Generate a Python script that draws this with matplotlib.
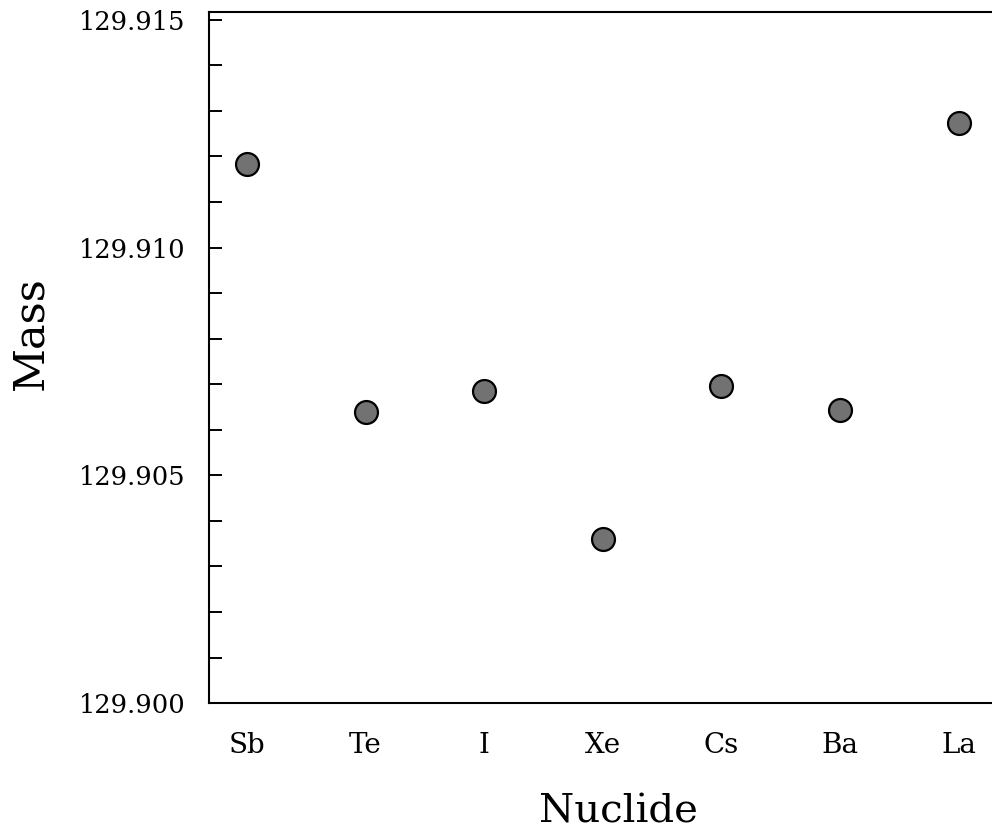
import matplotlib
matplotlib.use("Agg")
import matplotlib.pyplot as plt
from matplotlib.ticker import MultipleLocator, FormatStrFormatter

# Isobar A = 130 atomic masses
nuclides = ["Sb", "Te", "I", "Xe", "Cs", "Ba", "La"]
masses = [129.91183, 129.90638, 129.90685, 129.90360, 129.90697, 129.90643, 129.91273]
y_ticks = [129.900, 129.905, 129.910, 129.915]

plt.rcParams["font.family"] = ["DejaVu Serif"]

fig = plt.figure(figsize=(9.92, 8.33), dpi=100)
ax = fig.add_axes([0.2107, 0.156, 0.794, 0.8295])

x = list(range(len(nuclides)))
ax.plot(x, masses, linestyle="none", marker="o", markersize=16.5,
        markerfacecolor="#727272", markeredgecolor="black", markeredgewidth=1.6)

ax.set_xlim(-0.32, 6.32)
ax.set_ylim(129.900, 129.91517)

ax.set_xticks(x)
ax.set_xticklabels(nuclides, fontsize=20)
ax.set_yticks(y_ticks)
ax.yaxis.set_major_formatter(FormatStrFormatter("%.3f"))
ax.yaxis.set_minor_locator(MultipleLocator(0.001))

ax.tick_params(axis="y", which="both", direction="in", length=9.4, width=1.4,
               labelsize=18.5, pad=17)
ax.tick_params(axis="x", which="both", length=0, pad=21)

for side in ["left", "bottom", "top"]:
    ax.spines[side].set_linewidth(1.5)
ax.spines["right"].set_visible(False)

ax.set_xlabel("Nuclide", fontsize=29)
ax.set_ylabel("Mass", fontsize=31)
ax.xaxis.set_label_coords(0.52, -0.131)
ax.yaxis.set_label_coords(-0.2, 0.535)

fig.savefig("out.png", dpi=100)
